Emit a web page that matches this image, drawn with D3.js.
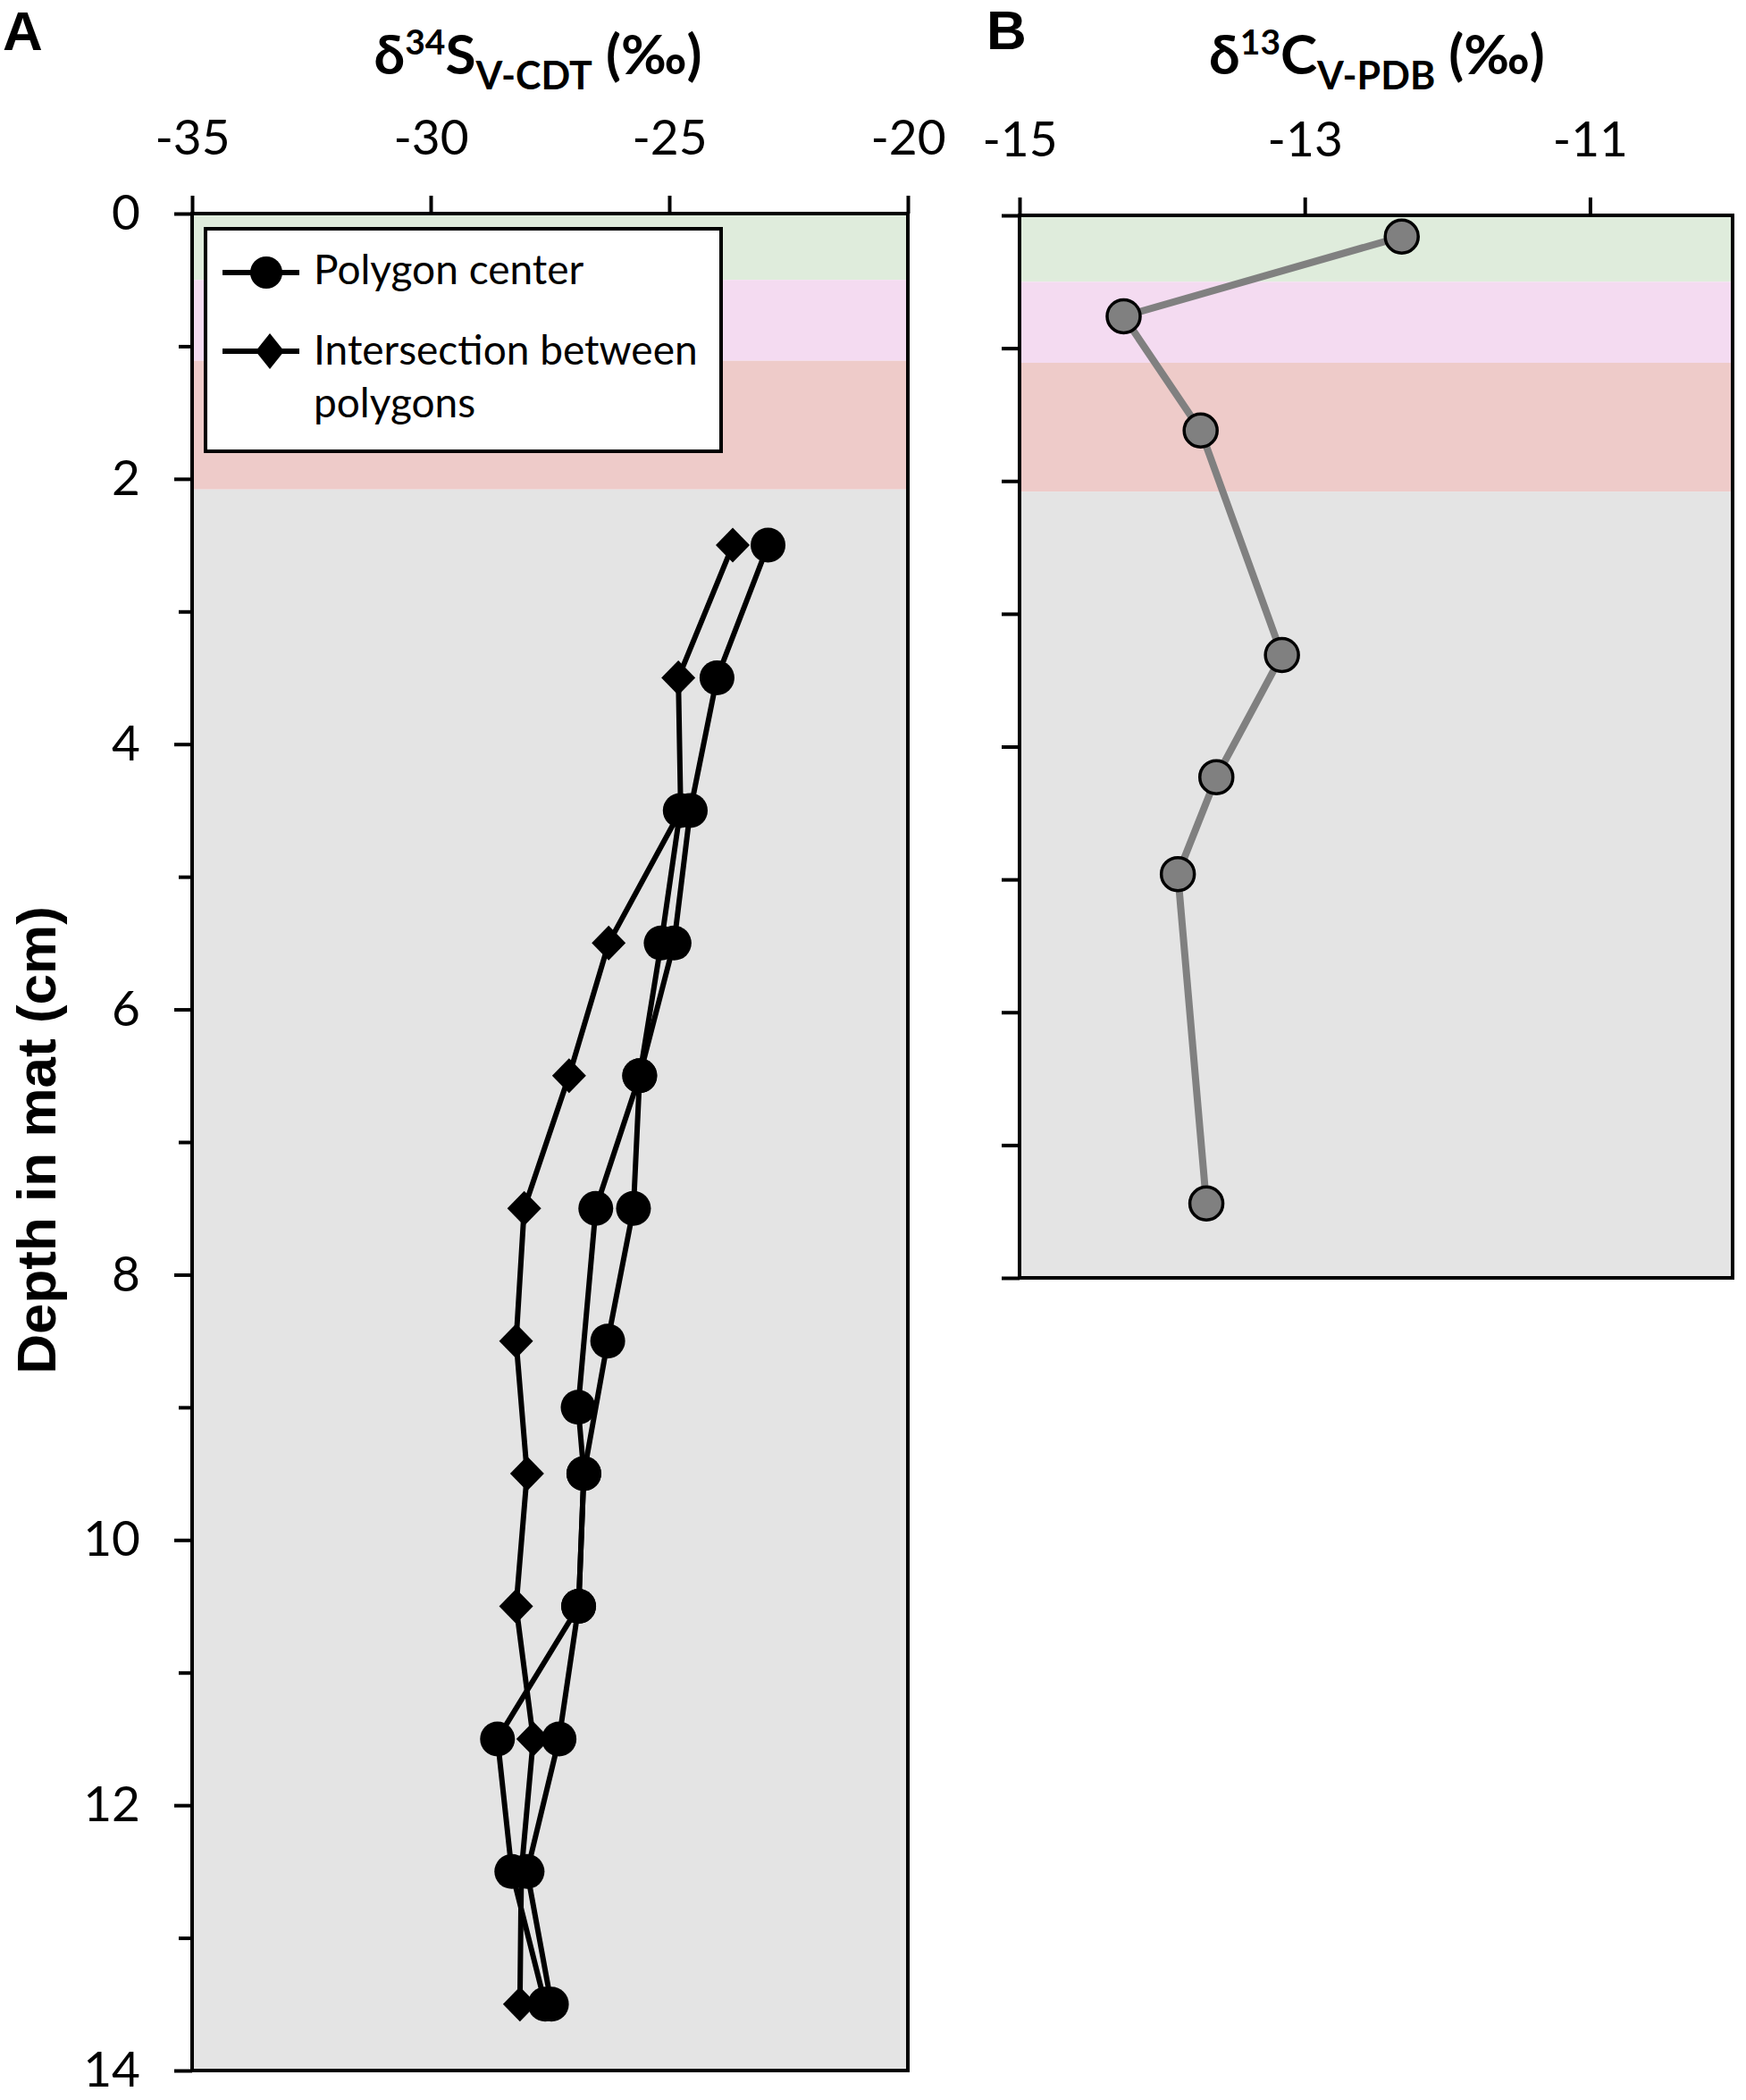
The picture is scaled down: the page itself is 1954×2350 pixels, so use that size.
<!DOCTYPE html>
<html>
<head>
<meta charset="utf-8">
<script src="https://cdn.jsdelivr.net/npm/d3@7"></script>
<style>
  body { margin: 0; background: #fff; }
  .tick text { font-family: Lato, "Open Sans", sans-serif; fill: #000; }
  .tick line { stroke: #000; stroke-width: 4; }
</style>
</head>
<body>
<script>
"use strict";

// panel A : sulfur isotopes, two polygon-center profiles and one intersection profile
var centerDepth1 = [2.5, 3.5, 4.5, 5.5, 6.5, 7.5, 8.5, 9.5, 10.5, 11.5, 12.5, 13.5];
var centerS1     = [-22.93, -24.0, -24.56, -24.9, -25.62, -25.75, -26.29, -26.79, -26.9, -27.31, -27.98, -27.47];
var centerDepth2 = [4.5, 5.5, 6.5, 7.5, 9.0, 9.5, 10.5, 11.5, 12.5, 13.5];
var centerS2     = [-24.77, -25.17, -25.62, -26.54, -26.91, -26.79, -26.9, -28.6, -28.3, -27.6];
var interDepth   = [2.5, 3.5, 4.5, 5.5, 6.5, 7.5, 8.5, 9.5, 10.5, 11.5, 12.5, 13.5];
var interS       = [-23.67, -24.81, -24.76, -26.27, -27.10, -28.04, -28.21, -27.98, -28.21, -27.85, -28.1, -28.13];

// panel B : carbon isotopes
var carbonDepth = [0.16, 0.76, 1.62, 3.31, 4.23, 4.96, 7.44];
var carbonC     = [-12.32, -14.27, -13.73, -13.16, -13.62, -13.89, -13.69];

// depth zones (top of each layer, cm)
var zoneTops = [0, 0.5, 1.11, 2.08];
var zoneFill = ["#dfecdc", "#f4dbf1", "#eecbc9", "#e4e4e4"];

// tick values
var sTicks = [-35, -30, -25, -20];
var cTicks = [-15, -13, -11];
var depthLabels = [0, 2, 4, 6, 8, 10, 12, 14];
var depthMinorA = [1, 3, 5, 7, 9, 11, 13];
var depthTicksB = [0, 1, 2, 3, 4, 5, 6, 7, 8];

var svg = d3.select("body").append("svg")
    .attr("width", 1954)
    .attr("height", 2350);

var ax = d3.scaleLinear().domain([-35, -20]).range([215, 1016]);
var ay = d3.scaleLinear().domain([0, 14]).range([239, 2317]);
var bx = d3.scaleLinear().domain([-15, -10]).range([1141, 1939]);
var by = d3.scaleLinear().domain([0, 8]).range([241, 1430]);

var plain = function(d){ return String(d); };

/* coloured depth zones behind a panel */
function drawZones(x, y){
    var maxDepth = y.domain()[1];
    svg.append("g").selectAll("rect")
        .data(zoneTops)
        .enter().append("rect")
        .attr("x", x.range()[0])
        .attr("width", x.range()[1] - x.range()[0])
        .attr("y", function(d){ return y(d); })
        .attr("height", function(d, i){
            var bottom = i < zoneTops.length - 1 ? zoneTops[i + 1] : maxDepth;
            return y(bottom) - y(d);
        })
        .attr("fill", function(d, i){ return zoneFill[i]; });
}

/* black frame, top axis with labels, left ticks */
function drawAxes(x, y, xTicks, yMajor, yMinor, showYLabels, minorLen){
    var top = svg.append("g").attr("transform", "translate(0," + y.range()[0] + ")")
        .call(d3.axisTop(x).tickValues(xTicks).tickSize(20).tickSizeOuter(0).tickPadding(46).tickFormat(plain));
    top.select(".domain").remove();
    top.selectAll("text").attr("font-size", 55);

    var left = svg.append("g").attr("transform", "translate(" + x.range()[0] + ",0)")
        .call(d3.axisLeft(y).tickValues(yMajor).tickSize(20).tickSizeOuter(0).tickPadding(38)
            .tickFormat(showYLabels ? plain : function(){ return ""; }));
    left.select(".domain").remove();
    left.selectAll("text").attr("font-size", 55);

    if ( yMinor ){
        var minor = svg.append("g").attr("transform", "translate(" + x.range()[0] + ",0)")
            .call(d3.axisLeft(y).tickValues(yMinor).tickSize(minorLen).tickSizeOuter(0).tickFormat(""));
        minor.select(".domain").remove();
    }

    svg.append("rect")
        .attr("x", x.range()[0])
        .attr("y", y.range()[0])
        .attr("width", x.range()[1] - x.range()[0])
        .attr("height", y.range()[1] - y.range()[0])
        .attr("fill", "none")
        .attr("stroke", "#000")
        .attr("stroke-width", 4);
}

function diamondPath(cx, cy){
    return "M" + cx + "," + (cy - 19.5) + "L" + (cx + 19) + "," + cy +
           "L" + cx + "," + (cy + 19.5) + "L" + (cx - 19) + "," + cy + "Z";
}

/* one profile: connecting line + markers */
function drawProfile(x, y, values, depths, marker, lineColor, lineWidth){
    var pts = d3.zip(values, depths);
    var line = d3.line()
        .x(function(d){ return x(d[0]); })
        .y(function(d){ return y(d[1]); });
    svg.append("path")
        .datum(pts)
        .attr("d", line)
        .attr("fill", "none")
        .attr("stroke", lineColor)
        .attr("stroke-width", lineWidth)
        .attr("stroke-linejoin", "round");

    var g = svg.append("g");
    if ( marker == "diamond" ){
        g.selectAll("path").data(pts).enter().append("path")
            .attr("d", function(d){ return diamondPath(x(d[0]), y(d[1])); })
            .attr("fill", "#000");
    }else if( marker == "circle" ){
        g.selectAll("circle").data(pts).enter().append("circle")
            .attr("cx", function(d){ return x(d[0]); })
            .attr("cy", function(d){ return y(d[1]); })
            .attr("r", 19.5)
            .attr("fill", "#000");
    }else{
        g.selectAll("circle").data(pts).enter().append("circle")
            .attr("cx", function(d){ return x(d[0]); })
            .attr("cy", function(d){ return y(d[1]); })
            .attr("r", 18.5)
            .attr("fill", "#808080")
            .attr("stroke", "#000")
            .attr("stroke-width", 3.5);
    }
}

/* axis title with super- and subscript */
function isotopeTitle(cx, mass, element, std){
    var t = svg.append("text")
        .attr("x", cx)
        .attr("y", 83)
        .attr("text-anchor", "middle")
        .attr("font-family", "Lato, 'Open Sans', sans-serif")
        .attr("font-weight", "bold")
        .attr("font-size", 62);
    t.append("tspan").text("\u03b4");
    t.append("tspan").attr("dy", -22).attr("font-size", 39).text(mass);
    t.append("tspan").attr("dy", 22).text(element);
    t.append("tspan").attr("dy", 17).attr("font-size", 43).text(std);
    t.append("tspan").attr("dy", -17).text(" (\u2030)");
}

// panel A
drawZones(ax, ay);
drawProfile(ax, ay, interS, interDepth, "diamond", "#000", 6);
drawProfile(ax, ay, centerS2, centerDepth2, "circle", "#000", 6);
drawProfile(ax, ay, centerS1, centerDepth1, "circle", "#000", 6);
drawAxes(ax, ay, sTicks, depthLabels, depthMinorA, true, 15);

// panel B
drawZones(bx, by);
drawProfile(bx, by, carbonC, carbonDepth, "grey", "#808080", 8);
drawAxes(bx, by, cTicks, depthTicksB, null, false, 0);

isotopeTitle(602, "34", "S", "V-CDT");
isotopeTitle(1541, "13", "C", "V-PDB");

// legend
var legend = svg.append("g");
legend.append("rect")
    .attr("x", 230).attr("y", 256)
    .attr("width", 577).attr("height", 249)
    .attr("fill", "#fff")
    .attr("stroke", "#000")
    .attr("stroke-width", 4);
legend.append("line")
    .attr("x1", 249).attr("x2", 335).attr("y1", 305).attr("y2", 305)
    .attr("stroke", "#000").attr("stroke-width", 6);
legend.append("circle")
    .attr("cx", 298).attr("cy", 305).attr("r", 18).attr("fill", "#000");
legend.append("line")
    .attr("x1", 249).attr("x2", 335).attr("y1", 393).attr("y2", 393)
    .attr("stroke", "#000").attr("stroke-width", 6);
legend.append("path")
    .attr("d", "M302,373L318,393L302,413L286,393Z")
    .attr("fill", "#000");
var legendText = [["Polygon center", 318], ["Intersection between", 408], ["polygons", 467]];
legend.selectAll("text.item").data(legendText).enter().append("text")
    .attr("class", "item")
    .attr("x", 351)
    .attr("y", function(d){ return d[1]; })
    .attr("font-family", "Lato, 'Open Sans', sans-serif")
    .attr("font-size", 46)
    .text(function(d){ return d[0]; });

// depth title and panel letters
svg.append("text")
    .attr("transform", "translate(62,1276) rotate(-90)")
    .attr("text-anchor", "middle")
    .attr("font-family", "'Liberation Sans', Arial, sans-serif")
    .attr("font-weight", "bold")
    .attr("font-size", 62)
    .text("Depth in mat (cm)");

svg.append("text")
    .attr("x", 3).attr("y", 56)
    .attr("font-family", "'Liberation Sans', Arial, sans-serif")
    .attr("font-weight", "bold")
    .attr("font-size", 62)
    .text("A");
svg.append("text")
    .attr("x", 1104).attr("y", 55)
    .attr("font-family", "'Liberation Sans', Arial, sans-serif")
    .attr("font-weight", "bold")
    .attr("font-size", 62)
    .text("B");
</script>
</body>
</html>
